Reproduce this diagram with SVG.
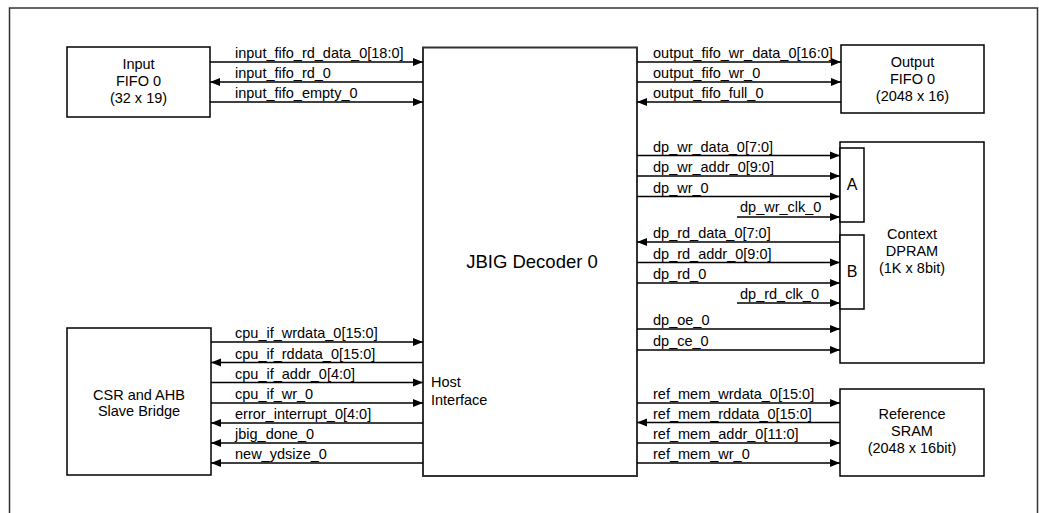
<svg xmlns="http://www.w3.org/2000/svg" width="1039" height="513" viewBox="0 0 1039 513">
<style>
  .box{fill:#fff;stroke:#000;stroke-width:1.5}
  .frame{fill:#fff;stroke:#333;stroke-width:1.5}
  .main{fill:#fff;stroke:#333;stroke-width:2}
  .t{font-family:"Liberation Sans",Arial,sans-serif;font-size:14.5px;fill:#000}
  .c{text-anchor:middle}
  .big{font-size:18.5px}
  .ab{font-size:16px}
  .w{fill:none;stroke:#000;stroke-width:1.5;marker-end:url(#ah)}
</style>
<defs>
  <marker id="ah" markerUnits="userSpaceOnUse" markerWidth="11" markerHeight="9" refX="10" refY="4" orient="auto" viewBox="0 0 11 8">
    <path d="M0,0 L10,4 L0,8 z" fill="#000"/>
  </marker>
</defs>
<rect class="frame" x="9.5" y="8" width="1028" height="520"/>

<g id="jbig">
  <rect class="main" x="423" y="47.5" width="214" height="428.5"/>
  <text class="t c big" x="532" y="268">JBIG Decoder 0</text>
  <text class="t" x="431" y="387">Host</text>
  <text class="t" x="431" y="405">Interface</text>
</g>

<g id="input-fifo">
  <rect class="box" x="67" y="47" width="143" height="70"/>
  <text class="t c" x="138.5" y="69">Input</text>
  <text class="t c" x="138.5" y="86">FIFO 0</text>
  <text class="t c" x="138.5" y="103">(32 x 19)</text>
</g>

<g id="output-fifo">
  <rect class="box" x="841" y="45" width="143" height="68"/>
  <text class="t c" x="912.5" y="67">Output</text>
  <text class="t c" x="912.5" y="84">FIFO 0</text>
  <text class="t c" x="912.5" y="101">(2048 x 16)</text>
</g>

<g id="context-dpram">
  <rect class="box" x="840" y="142" width="144" height="221"/>
  <text class="t c" x="912" y="239">Context</text>
  <text class="t c" x="912" y="256">DPRAM</text>
  <text class="t c" x="912" y="273">(1K x 8bit)</text>
</g>
<g id="port-a">
  <rect class="box" x="840" y="148" width="24" height="74"/>
  <text class="t c ab" x="852" y="190">A</text>
</g>
<g id="port-b">
  <rect class="box" x="840" y="235" width="24" height="74"/>
  <text class="t c ab" x="852" y="277">B</text>
</g>

<g id="reference-sram">
  <rect class="box" x="840" y="389" width="144" height="87"/>
  <text class="t c" x="912" y="419">Reference</text>
  <text class="t c" x="912" y="436">SRAM</text>
  <text class="t c" x="912" y="453">(2048 x 16bit)</text>
</g>

<g id="csr">
  <rect class="box" x="67" y="328" width="144" height="147"/>
  <text class="t c" x="139" y="400">CSR and AHB</text>
  <text class="t c" x="139" y="416">Slave Bridge</text>
</g>

<g id="connectors">
  <path class="w" d="M210,62 H423"/>
  <path class="w" d="M423,82 H210"/>
  <path class="w" d="M210,102 H423"/>

  <path class="w" d="M637,62 H841"/>
  <path class="w" d="M637,82 H841"/>
  <path class="w" d="M841,102 H637"/>

  <path class="w" d="M637,155.5 H840"/>
  <path class="w" d="M637,176 H840"/>
  <path class="w" d="M637,196.5 H840"/>
  <path class="w" d="M737,217 H840"/>
  <path class="w" d="M840,242 H637"/>
  <path class="w" d="M637,262.5 H840"/>
  <path class="w" d="M637,283 H840"/>
  <path class="w" d="M737,303 H840"/>
  <path class="w" d="M637,329 H840"/>
  <path class="w" d="M637,350 H840"/>

  <path class="w" d="M637,403 H840"/>
  <path class="w" d="M840,422.5 H637"/>
  <path class="w" d="M637,443 H840"/>
  <path class="w" d="M637,463 H840"/>

  <path class="w" d="M211,342 H423"/>
  <path class="w" d="M423,362.5 H211"/>
  <path class="w" d="M211,382.5 H423"/>
  <path class="w" d="M211,403 H423"/>
  <path class="w" d="M423,423 H211"/>
  <path class="w" d="M423,443 H211"/>
  <path class="w" d="M423,463 H211"/>
</g>

<g id="labels">
  <text class="t" x="235" y="58">input_fifo_rd_data_0[18:0]</text>
  <text class="t" x="235" y="78">input_fifo_rd_0</text>
  <text class="t" x="235" y="98">input_fifo_empty_0</text>

  <text class="t" x="653" y="58">output_fifo_wr_data_0[16:0]</text>
  <text class="t" x="653" y="78">output_fifo_wr_0</text>
  <text class="t" x="653" y="98">output_fifo_full_0</text>

  <text class="t" x="653" y="151.5">dp_wr_data_0[7:0]</text>
  <text class="t" x="653" y="172">dp_wr_addr_0[9:0]</text>
  <text class="t" x="653" y="192.5">dp_wr_0</text>
  <text class="t" x="740" y="212">dp_wr_clk_0</text>
  <text class="t" x="653" y="238">dp_rd_data_0[7:0]</text>
  <text class="t" x="653" y="258.5">dp_rd_addr_0[9:0]</text>
  <text class="t" x="653" y="279">dp_rd_0</text>
  <text class="t" x="740" y="299">dp_rd_clk_0</text>
  <text class="t" x="653" y="325">dp_oe_0</text>
  <text class="t" x="653" y="346">dp_ce_0</text>

  <text class="t" x="653" y="399">ref_mem_wrdata_0[15:0]</text>
  <text class="t" x="653" y="418.5">ref_mem_rddata_0[15:0]</text>
  <text class="t" x="653" y="439">ref_mem_addr_0[11:0]</text>
  <text class="t" x="653" y="459">ref_mem_wr_0</text>

  <text class="t" x="235" y="338">cpu_if_wrdata_0[15:0]</text>
  <text class="t" x="235" y="358.5">cpu_if_rddata_0[15:0]</text>
  <text class="t" x="235" y="378.5">cpu_if_addr_0[4:0]</text>
  <text class="t" x="235" y="399">cpu_if_wr_0</text>
  <text class="t" x="235" y="419">error_interrupt_0[4:0]</text>
  <text class="t" x="235" y="439">jbig_done_0</text>
  <text class="t" x="235" y="459">new_ydsize_0</text>
</g>
</svg>
